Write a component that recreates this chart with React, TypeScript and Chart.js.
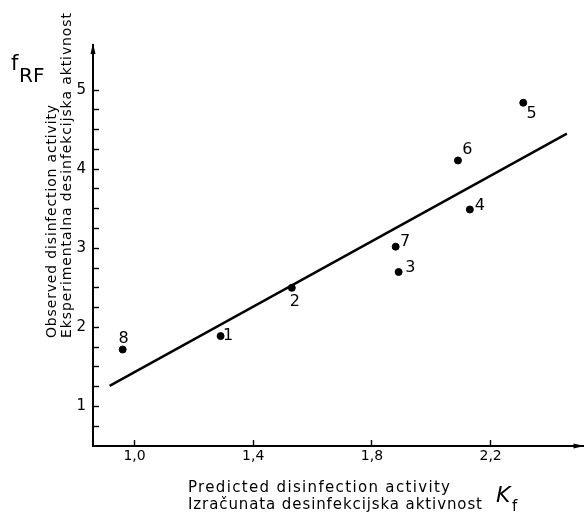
import React, { useEffect, useRef } from "react";
import { Chart, registerables } from "chart.js";

Chart.register(...registerables);

// ---- data ----
const pointLabels = ["1", "2", "3", "4", "5", "6", "7", "8"];
const predicted = [1.29, 1.53, 1.89, 2.13, 2.31, 2.09, 1.88, 0.96];
const observed = [1.89, 2.5, 2.7, 3.49, 4.84, 4.11, 3.02, 1.72];
const fitX = [0.916, 2.457];
const fitY = [1.26, 4.45];
const xTickValues = [1.0, 1.4, 1.8, 2.2];
const xTickLabels = ["1,0", "1,4", "1,8", "2,2"];
const yTickValues = [
  0.75, 1, 1.25, 1.5, 1.75, 2, 2.25, 2.5, 2.75, 3, 3.25, 3.5, 3.75, 4, 4.25,
  4.5, 4.75, 5,
];
const yMajorValues = [1, 2, 3, 4, 5];
const yTickLabels = ["1", "2", "3", "4", "5"];
const yTitleLines = [
  "Observed disinfection activity",
  "Eksperimentalna desinfekcijska aktivnost",
];
const xTitleLines = [
  "Predicted disinfection activity",
  "Izračunata desinfekcijska aktivnost",
];

// ---- label placement (style) ----
const labelDx = [7.6, 3, 11.7, 10, 8.3, 9.3, 9.3, 1];
const labelDy = [0, 14, -4, -4, 11, -11, -5, -11];

const FONT = "DejaVu Sans";

function fitText(
  ctx: CanvasRenderingContext2D,
  text: string,
  x: number,
  y: number,
  width: number
) {
  (ctx as any).letterSpacing = "0px";
  const w0 = ctx.measureText(text).width;
  const sp = (width - w0) / Math.max(1, text.length - 1);
  (ctx as any).letterSpacing = sp + "px";
  ctx.fillText(text, x, y);
  (ctx as any).letterSpacing = "0px";
}

const decorPlugin = {
  id: "decor",
  afterDatasetsDraw(chart: any) {
    const ctx: CanvasRenderingContext2D = chart.ctx;
    const meta = chart.getDatasetMeta(0);
    ctx.save();
    ctx.fillStyle = "#000";
    ctx.font = `16px '${FONT}'`;
    ctx.textAlign = "center";
    ctx.textBaseline = "middle";
    meta.data.forEach((el: any, i: number) => {
      ctx.fillText(pointLabels[i], el.x + labelDx[i], el.y + labelDy[i]);
    });
    ctx.restore();
  },
  afterDraw(chart: any) {
    const ctx: CanvasRenderingContext2D = chart.ctx;
    const ca = chart.chartArea;
    ctx.save();
    ctx.fillStyle = "#000";
    // arrows
    ctx.beginPath();
    ctx.moveTo(ca.left, ca.top - 2);
    ctx.lineTo(ca.left - 2.5, ca.top + 9);
    ctx.lineTo(ca.left + 2.5, ca.top + 9);
    ctx.closePath();
    ctx.fill();
    ctx.beginPath();
    ctx.moveTo(ca.right + 1, ca.bottom);
    ctx.lineTo(ca.right - 10, ca.bottom - 2.5);
    ctx.lineTo(ca.right - 10, ca.bottom + 2.5);
    ctx.closePath();
    ctx.fill();

    // y title (rotated)
    ctx.textAlign = "left";
    ctx.textBaseline = "alphabetic";
    ctx.font = `14px '${FONT}'`;
    const yWidths = [233, 325];
    const yBase = [56, 71];
    yTitleLines.forEach((t, i) => {
      ctx.save();
      ctx.translate(yBase[i], 338);
      ctx.rotate(-Math.PI / 2);
      fitText(ctx, t, 0, 0, yWidths[i]);
      ctx.restore();
    });

    // x title
    ctx.font = `15px '${FONT}'`;
    const xWidths = [262, 294];
    const xBase = [492, 509];
    xTitleLines.forEach((t, i) => {
      fitText(ctx, t, 188, xBase[i], xWidths[i]);
    });

    // f_RF
    ctx.font = `21px '${FONT}'`;
    ctx.fillText("f", 11, 70);
    ctx.font = `20px '${FONT}'`;
    ctx.fillText("RF", 19, 82);

    // K_f
    ctx.font = `italic 22px '${FONT}'`;
    ctx.fillText("K", 496, 502);
    ctx.font = `15px '${FONT}'`;
    ctx.fillText("f", 512, 511);
    ctx.restore();
  },
};

export default function App() {
  const ref = useRef<HTMLCanvasElement | null>(null);
  useEffect(() => {
    if (!ref.current) return;
    const chart = new Chart(ref.current, {
      type: "scatter",
      data: {
        datasets: [
          {
            label: "points",
            data: predicted.map((x, i) => ({ x, y: observed[i] })),
            backgroundColor: "#000",
            borderColor: "#000",
            pointRadius: 3.5,
            pointHoverRadius: 3.5,
            showLine: false,
          },
          {
            label: "fit",
            data: fitX.map((x, i) => ({ x, y: fitY[i] })),
            borderColor: "#000",
            borderWidth: 2.4,
            pointRadius: 0,
            showLine: true,
            fill: false,
          },
        ],
      },
      plugins: [decorPlugin],
      options: {
        responsive: false,
        animation: false,
        events: [],
        layout: { padding: { top: 45, right: 2, left: 0, bottom: 0 } },
        plugins: {
          legend: { display: false },
          tooltip: { enabled: false },
          title: { display: false },
        },
        scales: {
          x: {
            type: "linear",
            min: 0.86,
            max: 2.513,
            afterBuildTicks: (scale: any) => {
              scale.ticks = xTickValues.map((v) => ({ value: v }));
            },
            afterFit: (scale: any) => {
              scale.height = 69;
            },
            ticks: {
              color: "#000",
              font: { family: FONT, size: 14 },
              padding: 8,
              maxRotation: 0,
              autoSkip: false,
              callback: (v: any) => {
                const i = xTickValues.findIndex((t) => Math.abs(t - v) < 1e-6);
                return i >= 0 ? xTickLabels[i] : "";
              },
            },
            grid: {
              drawOnChartArea: false,
              drawTicks: true,
              tickLength: -6,
              tickColor: "#000",
              tickWidth: 1.4,
            },
            border: { display: true, color: "#000", width: 2 },
          },
          y: {
            type: "linear",
            min: 0.5,
            max: 5.57,
            afterBuildTicks: (scale: any) => {
              scale.ticks = yTickValues.map((v) => ({ value: v }));
            },
            afterFit: (scale: any) => {
              scale.width = 93;
            },
            ticks: {
              color: "#000",
              font: { family: FONT, size: 15 },
              padding: 13,
              autoSkip: false,
              callback: (v: any) => {
                const i = yMajorValues.findIndex((t) => Math.abs(t - v) < 1e-6);
                return i >= 0 ? yTickLabels[i] : "";
              },
            },
            grid: {
              drawOnChartArea: false,
              drawTicks: true,
              tickLength: -6,
              tickColor: "#000",
              tickWidth: 1.4,
            },
            border: { display: true, color: "#000", width: 2 },
          },
        },
      },
    } as any);
    return () => chart.destroy();
  }, []);
  return (
    <div
      style={{
        position: "absolute",
        left: 0,
        top: 0,
        width: 588,
        height: 515,
        background: "#fff",
      }}
    >
      <canvas
        ref={ref}
        width={588}
        height={515}
        style={{ display: "block", width: 588, height: 515 }}
      />
    </div>
  );
}
